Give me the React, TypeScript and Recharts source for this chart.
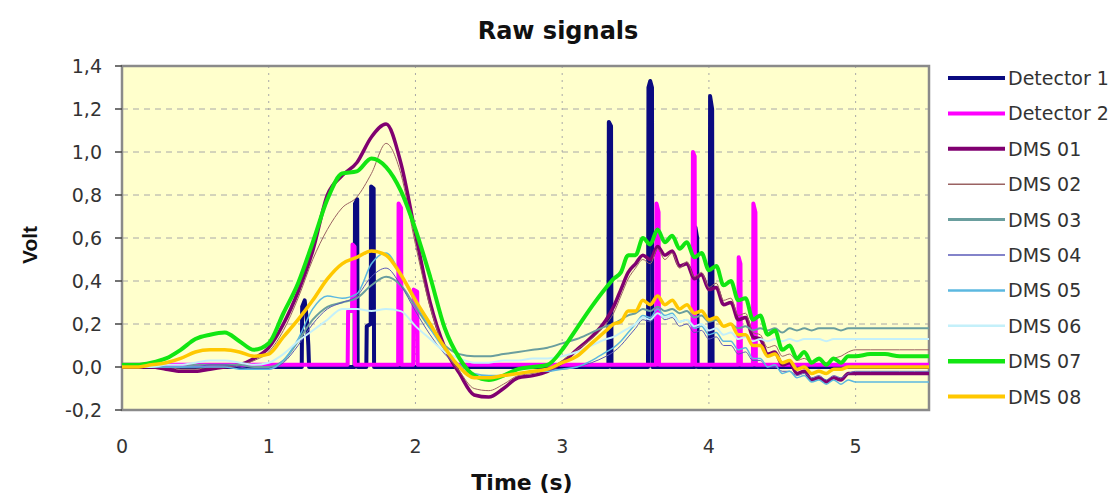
import React from 'react';
import { LineChart, Line, XAxis, YAxis, CartesianGrid, ReferenceArea } from 'recharts';

// Time grid (s) shared by the DMS channels
const TIME = [
  0, 0.1, 0.2, 0.3, 0.4, 0.5, 0.6, 0.7, 0.8, 0.9,
  1.0, 1.1, 1.2, 1.3, 1.4, 1.5, 1.6, 1.7, 1.8, 1.9,
  2.0, 2.1, 2.2, 2.3, 2.4, 2.5, 2.6, 2.7, 2.8, 2.9,
  3.0, 3.1, 3.2, 3.3,
  3.35, 3.4, 3.45, 3.5, 3.55, 3.6, 3.65, 3.7, 3.75, 3.8,
  3.85, 3.9, 3.95, 4.0, 4.05, 4.1, 4.15, 4.2, 4.25, 4.3,
  4.35, 4.4, 4.45, 4.5, 4.55, 4.6, 4.65, 4.7, 4.75, 4.8,
  4.85, 4.9, 4.95,
  5.0, 5.1, 5.2, 5.3, 5.4, 5.5,
];

const DMS01 = [
  0.00, 0.00, 0.00, -0.01, -0.02, -0.02, -0.01, 0.00, 0.01, 0.04,
  0.09, 0.20, 0.35, 0.54, 0.80, 0.89, 0.95, 1.07, 1.13, 0.95,
  0.62, 0.30, 0.09, -0.03, -0.13, -0.14, -0.10, -0.05, -0.04, -0.02,
  0.02, 0.08, 0.14, 0.22,
  0.28, 0.36, 0.44, 0.48, 0.52, 0.50, 0.56, 0.52, 0.54, 0.47,
  0.48, 0.41, 0.43, 0.36, 0.37, 0.29, 0.30, 0.22, 0.23, 0.14,
  0.13, 0.06, 0.07, 0.01, 0.02, -0.03, -0.02, -0.06, -0.05, -0.07,
  -0.05, -0.06, -0.03,
  -0.03, -0.03, -0.03, -0.03, -0.03, -0.03,
];

const DMS02 = [
  0.00, 0.00, 0.00, 0.00, -0.01, -0.01, 0.00, 0.00, 0.01, 0.03,
  0.07, 0.17, 0.32, 0.50, 0.64, 0.74, 0.79, 0.90, 1.04, 0.90,
  0.57, 0.28, 0.08, -0.02, -0.10, -0.11, -0.08, -0.04, -0.03, -0.01,
  0.03, 0.08, 0.13, 0.20,
  0.25, 0.33, 0.41, 0.46, 0.50, 0.48, 0.55, 0.50, 0.53, 0.46,
  0.49, 0.42, 0.44, 0.37, 0.39, 0.31, 0.32, 0.24, 0.25, 0.16,
  0.15, 0.09, 0.10, 0.05, 0.06, 0.03, 0.04, 0.02, 0.03, 0.02,
  0.04, 0.05, 0.07,
  0.08, 0.08, 0.08, 0.08, 0.08, 0.08,
];

const DMS03 = [
  0.00, 0.00, 0.00, 0.00, 0.00, 0.01, 0.01, 0.01, 0.01, 0.00,
  0.00, 0.03, 0.12, 0.22, 0.28, 0.30, 0.32, 0.38, 0.42, 0.38,
  0.28, 0.18, 0.10, 0.06, 0.05, 0.05, 0.06, 0.07, 0.08, 0.09,
  0.11, 0.13, 0.16, 0.19,
  0.20, 0.22, 0.24, 0.25, 0.27, 0.26, 0.28, 0.26, 0.27, 0.25,
  0.26, 0.23, 0.24, 0.21, 0.22, 0.19, 0.20, 0.18, 0.19, 0.17,
  0.18, 0.17, 0.18, 0.16, 0.18, 0.17, 0.18, 0.17, 0.18, 0.18,
  0.18, 0.17, 0.18,
  0.18, 0.18, 0.18, 0.18, 0.18, 0.18,
];

const DMS04 = [
  0.00, 0.00, 0.00, 0.00, 0.00, 0.00, 0.01, 0.01, 0.00, -0.01,
  -0.01, 0.02, 0.10, 0.20, 0.27, 0.30, 0.33, 0.42, 0.46, 0.38,
  0.26, 0.15, 0.06, 0.00, -0.04, -0.05, -0.04, -0.03, -0.02, -0.01,
  -0.01, 0.00, 0.02, 0.05,
  0.07, 0.10, 0.14, 0.18, 0.22, 0.21, 0.25, 0.22, 0.23, 0.19,
  0.20, 0.16, 0.17, 0.13, 0.14, 0.10, 0.10, 0.06, 0.07, 0.03,
  0.03, 0.00, 0.00, -0.02, -0.02, -0.04, -0.03, -0.05, -0.04, -0.06,
  -0.04, -0.05, -0.03,
  -0.02, -0.02, -0.02, -0.02, -0.02, -0.02,
];

const DMS05 = [
  0.00, 0.00, 0.00, 0.00, 0.00, 0.00, 0.00, 0.00, -0.01, -0.01,
  -0.01, 0.03, 0.13, 0.27, 0.33, 0.32, 0.34, 0.48, 0.53, 0.43,
  0.30, 0.18, 0.08, 0.01, -0.03, -0.04, -0.04, -0.03, -0.02, -0.02,
  -0.01, 0.00, 0.03, 0.07,
  0.09, 0.12, 0.16, 0.20, 0.24, 0.23, 0.27, 0.24, 0.25, 0.21,
  0.22, 0.18, 0.19, 0.15, 0.16, 0.12, 0.12, 0.08, 0.09, 0.04,
  0.04, 0.00, 0.01, -0.03, -0.02, -0.05, -0.04, -0.07, -0.06, -0.08,
  -0.06, -0.08, -0.06,
  -0.07, -0.07, -0.07, -0.07, -0.07, -0.07,
];

const DMS06 = [
  0.00, 0.00, 0.00, 0.01, 0.01, 0.02, 0.03, 0.03, 0.02, 0.01,
  0.02, 0.06, 0.12, 0.17, 0.22, 0.27, 0.27, 0.26, 0.27, 0.26,
  0.19, 0.13, 0.07, 0.04, 0.02, 0.02, 0.03, 0.03, 0.04, 0.04,
  0.05, 0.07, 0.10, 0.13,
  0.14, 0.16, 0.18, 0.20, 0.23, 0.22, 0.25, 0.23, 0.24, 0.21,
  0.22, 0.19, 0.20, 0.17, 0.18, 0.15, 0.16, 0.13, 0.14, 0.12,
  0.13, 0.12, 0.13, 0.12, 0.13, 0.12, 0.13, 0.13, 0.13, 0.12,
  0.13, 0.13, 0.13,
  0.13, 0.13, 0.13, 0.13, 0.13, 0.13,
];

const DMS07 = [
  0.01, 0.01, 0.02, 0.04, 0.08, 0.13, 0.15, 0.16, 0.12, 0.08,
  0.11, 0.25, 0.39, 0.58, 0.78, 0.90, 0.91, 0.97, 0.93, 0.82,
  0.64, 0.42, 0.18, 0.04, -0.04, -0.06, -0.04, -0.01, 0.00, 0.01,
  0.08, 0.18, 0.28, 0.37,
  0.41, 0.44, 0.52, 0.52, 0.60, 0.57, 0.64, 0.58, 0.61, 0.55,
  0.58, 0.51, 0.53, 0.45, 0.47, 0.38, 0.40, 0.31, 0.32, 0.22,
  0.24, 0.15, 0.17, 0.08, 0.10, 0.04, 0.07, 0.02, 0.04, 0.01,
  0.04, 0.02, 0.05,
  0.05, 0.06, 0.06, 0.05, 0.05, 0.05,
];

const DMS08 = [
  0.00, 0.00, 0.01, 0.02, 0.04, 0.07, 0.08, 0.08, 0.07, 0.05,
  0.06, 0.14, 0.22, 0.31, 0.41, 0.48, 0.51, 0.54, 0.52, 0.43,
  0.31, 0.20, 0.09, 0.00, -0.05, -0.05, -0.04, -0.03, -0.02, -0.01,
  0.02, 0.05, 0.11, 0.17,
  0.20, 0.21, 0.26, 0.26, 0.31, 0.29, 0.33, 0.29, 0.31, 0.27,
  0.29, 0.25, 0.26, 0.22, 0.23, 0.19, 0.20, 0.15, 0.15, 0.10,
  0.10, 0.05, 0.06, 0.02, 0.03, -0.01, 0.00, -0.03, -0.02, -0.03,
  -0.01, -0.01, 0.00,
  0.00, 0.00, 0.00, 0.00, 0.00, 0.00,
];

// Detector pulses: their own time stamps
const DET1_TIME = [
  0,
  1.225, 1.228, 1.245, 1.26, 1.27, 1.275,
  1.585, 1.588, 1.603, 1.606,
  1.665, 1.668, 1.695, 1.698, 1.715, 1.718,
  3.315, 3.318, 3.333, 3.336,
  3.585, 3.588, 3.600, 3.612, 3.615,
  3.905, 3.908, 3.920, 3.923,
  4.005, 4.008, 4.022, 4.025,
  5.5,
];
const DET1_VOLT = [
  0,
  0, 0.28, 0.31, 0.22, 0.1, 0,
  0, 0.76, 0.78, 0,
  0, 0.19, 0.2, 0.84, 0.83, 0,
  0, 1.14, 1.12, 0,
  0, 1.3, 1.33, 1.3, 0,
  0, 0.65, 0.6, 0,
  0, 1.26, 1.2, 0,
  0,
];

const DET2_TIME = [
  0,
  1.538, 1.541, 1.568, 1.571, 1.585, 1.588,
  1.882, 1.885, 1.902, 1.905,
  1.985, 1.988, 2.012, 2.015,
  3.640, 3.643, 3.657, 3.660,
  3.888, 3.891, 3.903, 3.906,
  4.200, 4.203, 4.215, 4.218,
  4.300, 4.303, 4.317, 4.320,
  5.5,
];
const DET2_VOLT = [
  0.01,
  0.01, 0.26, 0.26, 0.57, 0.56, 0.01,
  0.01, 0.76, 0.74, 0.01,
  0.01, 0.36, 0.35, 0.01,
  0.01, 0.76, 0.72, 0.01,
  0.01, 1.0, 0.98, 0.01,
  0.01, 0.51, 0.48, 0.01,
  0.01, 0.76, 0.72, 0.01,
  0.01,
];

const SERIES_NAMES = ['Detector 1', 'Detector 2', 'DMS 01', 'DMS 02', 'DMS 03', 'DMS 04', 'DMS 05', 'DMS 06', 'DMS 07', 'DMS 08'];
const X_TICKS = [0, 1, 2, 3, 4, 5];
const Y_TICKS = [-0.2, 0, 0.2, 0.4, 0.6, 0.8, 1.0, 1.2, 1.4];

const COLORS = ['#0a0a80', '#ff00ff', '#800070', '#9a6262', '#6a9e9e', '#5a5ab8', '#5cb8e0', '#c4f0fa', '#12e612', '#ffc800'];
const WIDTHS = [4, 4, 3.5, 1, 2, 1, 1.5, 2, 4, 3.5];
const LEGEND_WIDTHS = [4, 4, 4, 1.5, 3, 1.5, 2.5, 2.5, 4.5, 4];
const CURVE_TYPES = ['linear', 'linear', 'monotone', 'monotone', 'monotone', 'monotone', 'monotone', 'monotone', 'monotone', 'monotone'];

const zip = (t: number[], v: number[]) => t.map((x, i) => ({ t: x, v: v[i] }));

const SERIES_DATA = [
  zip(DET1_TIME, DET1_VOLT),
  zip(DET2_TIME, DET2_VOLT),
  zip(TIME, DMS01),
  zip(TIME, DMS02),
  zip(TIME, DMS03),
  zip(TIME, DMS04),
  zip(TIME, DMS05),
  zip(TIME, DMS06),
  zip(TIME, DMS07),
  zip(TIME, DMS08),
];

const fmtY = (v: number) => v.toFixed(1).replace('.', ',');

export default function App() {
  return (
    <div style={{ position: 'relative', width: 1117, height: 495, background: '#fff' }}>
      <style>{`body{margin:0;}`}</style>
      <LineChart width={1117} height={495} margin={{ top: 66, right: 188, bottom: 0, left: 0 }}>
        <CartesianGrid vertical={false} horizontalValues={Y_TICKS} stroke="#a8a8a8" strokeDasharray="6 5" fill="#ffffcc" fillOpacity={1} />
        <CartesianGrid horizontal={false} verticalValues={X_TICKS} stroke="#a8a8a8" strokeDasharray="2 5" />
        <XAxis
          type="number"
          dataKey="t"
          domain={[0, 5.5]}
          ticks={X_TICKS}
          allowDataOverflow
          height={85}
          axisLine={false}
          tickLine={false}
          tickSize={0}
          tickMargin={30}
          tick={{ fill: '#333', fontSize: 19, fontFamily: 'DejaVu Sans' }}
        />
        <YAxis
          type="number"
          domain={[-0.2, 1.4]}
          ticks={Y_TICKS}
          allowDataOverflow
          width={122}
          axisLine={false}
          tickLine={{ stroke: '#444', strokeWidth: 1.5 }}
          tickSize={7}
          tickMargin={13}
          tickFormatter={fmtY}
          tick={{ fill: '#333', fontSize: 19, fontFamily: 'DejaVu Sans' }}
        />
        {SERIES_DATA.map((d, i) => (
          <Line
            key={SERIES_NAMES[i]}
            data={d}
            dataKey="v"
            name={SERIES_NAMES[i]}
            type={CURVE_TYPES[i] as any}
            stroke={COLORS[i]}
            strokeWidth={WIDTHS[i]}
            dot={false}
            activeDot={false}
            isAnimationActive={false}
            strokeLinejoin="round"
          />
        ))}
        <ReferenceArea x1={0} x2={5.5} y1={-0.2} y2={1.4} fill="none" stroke="#8a8a8a" strokeWidth={2.5} ifOverflow="visible" />
      </LineChart>
      <svg width={1117} height={495} style={{ position: 'absolute', left: 0, top: 0, pointerEvents: 'none' }}>
        <text x={558} y={39} textAnchor="middle" fontFamily="DejaVu Sans" fontWeight="bold" fontSize={24} fill="#111">Raw signals</text>
        <text x={522} y={490} textAnchor="middle" fontFamily="DejaVu Sans" fontWeight="bold" fontSize={22} fill="#111">Time (s)</text>
        <text x={37} y={245} textAnchor="middle" fontFamily="Liberation Sans" fontWeight="bold" fontSize={21} fill="#111" transform="rotate(-90 37 245)">Volt</text>
        {SERIES_NAMES.map((n, i) => {
          const y = 78 + i * 35.4;
          return (
            <g key={n}>
              <line x1={948} x2={1005} y1={y} y2={y} stroke={COLORS[i]} strokeWidth={LEGEND_WIDTHS[i]} />
              <text x={1008} y={y + 7} fontFamily="DejaVu Sans" fontSize={19} fill="#333">{n}</text>
            </g>
          );
        })}
      </svg>
    </div>
  );
}
